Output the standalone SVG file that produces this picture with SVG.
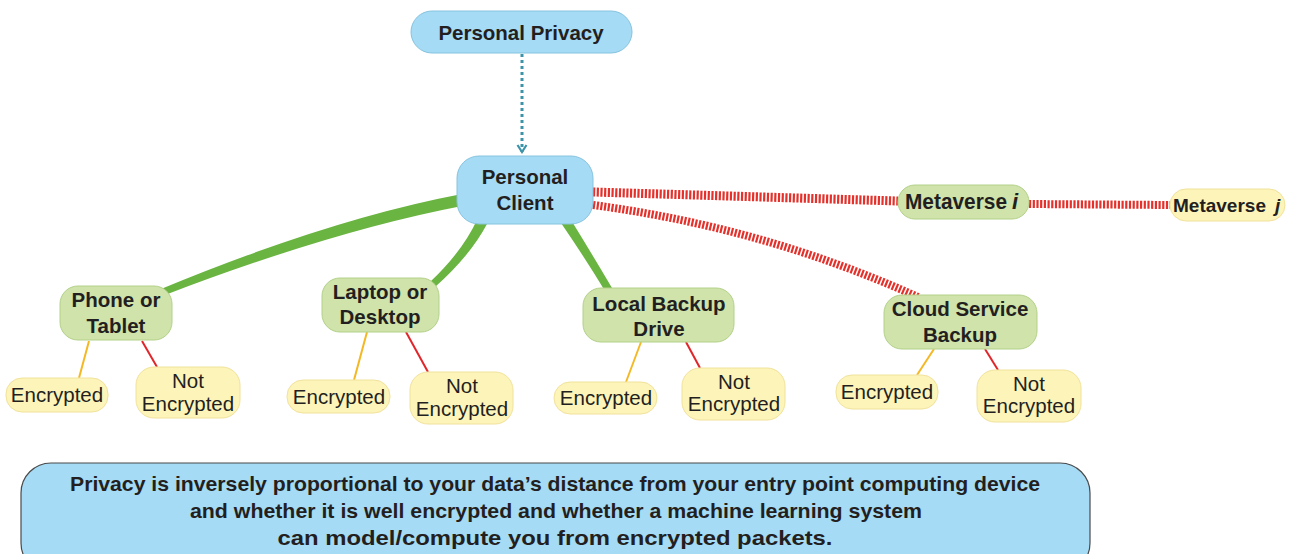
<svg xmlns="http://www.w3.org/2000/svg" width="1296" height="554" viewBox="0 0 1296 554">
  <defs>
    <marker id="chev" viewBox="0 0 12 12" refX="10" refY="6" markerWidth="12" markerHeight="12" markerUnits="userSpaceOnUse" orient="auto">
      <path d="M3,1.5 L10,6 L3,10.5" fill="none" stroke="#3d93a8" stroke-width="2.2"/>
    </marker>
    <style>
      .blue { fill: #a5dbf5; stroke: #86c3de; stroke-width: 1; }
      .green { fill: #cfe3aa; stroke: #b3d18a; stroke-width: 1; }
      .yellow { fill: #fdf4b9; stroke: #f1e29c; stroke-width: 1; }
      .note { fill: #a5dbf5; stroke: #4a4a4a; stroke-width: 1.2; }
      text { font-family: "Liberation Sans", Arial, sans-serif; fill: #231f20; text-anchor: middle; }
      .b { font-weight: bold; font-size: 20.5px; }
      .narrow { font-weight: bold; font-size: 22px; text-anchor: start; }
      .small { font-weight: bold; font-size: 19px; text-anchor: start; }
      .r { font-size: 20.5px; }
      .n { font-weight: bold; font-size: 20.5px; }
      .trunk { fill: #6ab441; }
      .hatch { fill: none; stroke: #e4312b; stroke-dasharray: 2.2 1.5; }
      .enc { stroke: #f5b825; stroke-width: 2; fill: none; }
      .not { stroke: #e0262a; stroke-width: 2; fill: none; }
      .dots { stroke: #3d93a8; stroke-width: 3; stroke-dasharray: 3 3; fill: none; }
    </style>
  </defs>

  <!-- connectors -->
  <g id="connectors">
    <path class="dots" d="M522,54 L522,152" marker-end="url(#chev)"/>
    <!-- tapered green branches -->
    <path class="trunk" d="M462,194 Q330,219 161,289 L165,295 Q332,231 462,206 Z"/>
    <path class="trunk" d="M477,220 Q462,252 430,282 L435,287 Q470,256 487,224 Z"/>
    <path class="trunk" d="M561,223 Q585,258 605,291 L612,288 Q592,254 571,220 Z"/>
    <!-- hatched links to remote stores -->
    <path class="hatch" stroke-width="9" d="M593,192 L898,201"/>
    <path class="hatch" stroke-width="8" d="M1029,204 L1170,205"/>
    <path class="hatch" stroke-width="8" d="M593,205 Q765,228 918,297"/>
    <!-- leaf links -->
    <path class="enc" d="M89,341 L79,378"/>
    <path class="not" d="M142,341 L157,367"/>
    <path class="enc" d="M367,332 L354,380"/>
    <path class="not" d="M406,332 L428,372"/>
    <path class="enc" d="M641,342 L626,382"/>
    <path class="not" d="M686,342 L700,368"/>
    <path class="enc" d="M934,349 L917,375"/>
    <path class="not" d="M985,349 L998,370"/>
  </g>

  <g id="personal-privacy">
    <rect class="blue" x="411" y="11" width="221" height="42" rx="21"/>
    <text class="b" x="521" y="40">Personal Privacy</text>
  </g>

  <g id="personal-client">
    <rect class="blue" x="457" y="156" width="136" height="68" rx="22"/>
    <text class="b" x="525" y="184">Personal</text>
    <text class="b" x="525" y="210">Client</text>
  </g>

  <g id="metaverse-i">
    <rect class="green" x="898" y="185" width="131" height="34" rx="17"/>
    <text class="narrow" x="905" y="209" textLength="102" lengthAdjust="spacingAndGlyphs">Metaverse</text>
    <text class="narrow" x="1012" y="209" font-style="italic">i</text>
  </g>

  <g id="metaverse-j">
    <rect class="yellow" x="1170" y="189" width="115" height="32" rx="16"/>
    <text class="small" x="1173" y="212">Metaverse</text>
    <text class="small" x="1275" y="212" font-style="italic">j</text>
  </g>

  <g id="phone-tablet">
    <rect class="green" x="60" y="286" width="112" height="54" rx="18"/>
    <text class="b" x="116" y="307">Phone or</text>
    <text class="b" x="116" y="333">Tablet</text>
  </g>

  <g id="laptop-desktop">
    <rect class="green" x="322" y="278" width="117" height="54" rx="18"/>
    <text class="b" x="380" y="299">Laptop or</text>
    <text class="b" x="380" y="324">Desktop</text>
  </g>

  <g id="local-backup">
    <rect class="green" x="583" y="288" width="151" height="54" rx="18"/>
    <text class="b" x="659" y="311">Local Backup</text>
    <text class="b" x="659" y="336">Drive</text>
  </g>

  <g id="cloud-backup">
    <rect class="green" x="884" y="295" width="153" height="54" rx="18"/>
    <text class="b" x="960" y="316">Cloud Service</text>
    <text class="b" x="960" y="342">Backup</text>
  </g>

  <g id="phone-enc">
    <rect class="yellow" x="6" y="378" width="102" height="34" rx="16"/>
    <text class="r" x="57" y="402">Encrypted</text>
  </g>
  <g id="phone-not">
    <rect class="yellow" x="136" y="367" width="104" height="51" rx="18"/>
    <text class="r" x="188" y="388">Not</text>
    <text class="r" x="188" y="411">Encrypted</text>
  </g>

  <g id="laptop-enc">
    <rect class="yellow" x="287" y="380" width="103" height="33" rx="16"/>
    <text class="r" x="339" y="404">Encrypted</text>
  </g>
  <g id="laptop-not">
    <rect class="yellow" x="410" y="372" width="103" height="52" rx="18"/>
    <text class="r" x="462" y="393">Not</text>
    <text class="r" x="462" y="416">Encrypted</text>
  </g>

  <g id="local-enc">
    <rect class="yellow" x="554" y="382" width="103" height="32" rx="16"/>
    <text class="r" x="606" y="405">Encrypted</text>
  </g>
  <g id="local-not">
    <rect class="yellow" x="682" y="368" width="103" height="52" rx="18"/>
    <text class="r" x="734" y="389">Not</text>
    <text class="r" x="734" y="411">Encrypted</text>
  </g>

  <g id="cloud-enc">
    <rect class="yellow" x="836" y="375" width="102" height="34" rx="16"/>
    <text class="r" x="887" y="399">Encrypted</text>
  </g>
  <g id="cloud-not">
    <rect class="yellow" x="977" y="370" width="104" height="52" rx="18"/>
    <text class="r" x="1029" y="391">Not</text>
    <text class="r" x="1029" y="413">Encrypted</text>
  </g>

  <g id="summary">
    <rect class="note" x="21" y="463" width="1069" height="110" rx="30"/>
    <text class="n" x="555" y="491" textLength="970" lengthAdjust="spacingAndGlyphs">Privacy is inversely proportional to your data’s distance from your entry point computing device</text>
    <text class="n" x="556" y="518" textLength="732" lengthAdjust="spacingAndGlyphs">and whether it is well encrypted and whether a machine learning system</text>
    <text class="n" x="555" y="545" textLength="555" lengthAdjust="spacingAndGlyphs">can model/compute you from encrypted packets.</text>
  </g>
</svg>
